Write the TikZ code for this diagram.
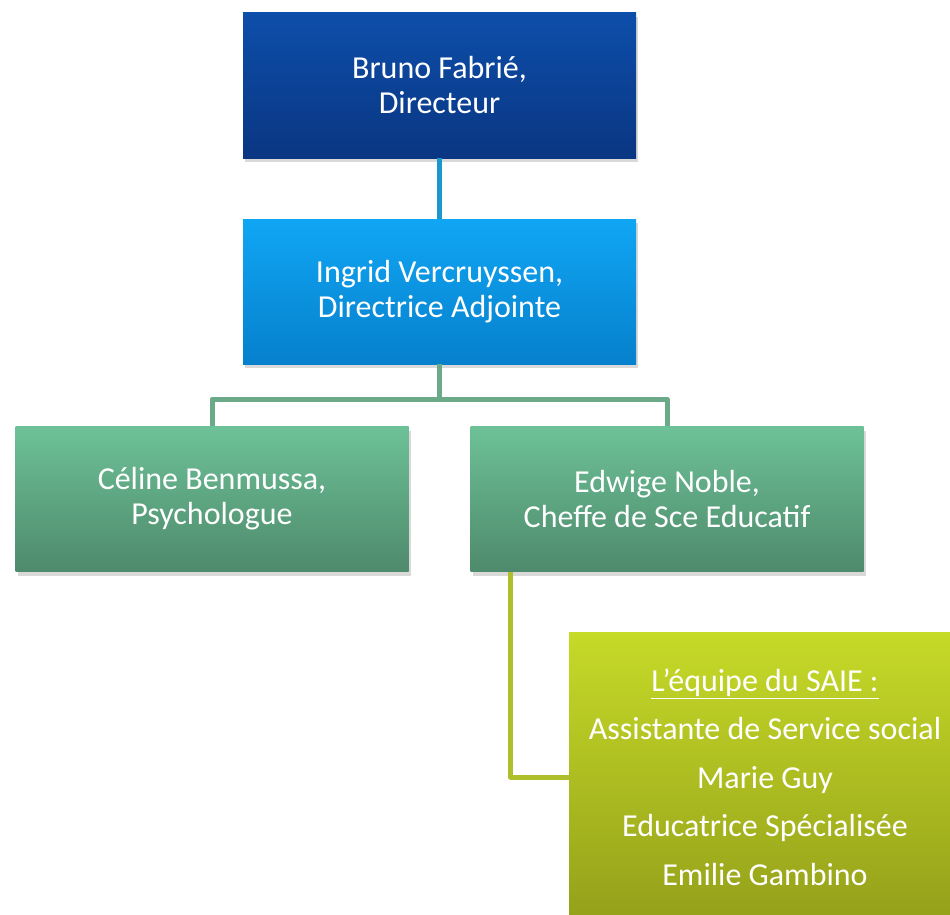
\documentclass[tikz,border=0pt]{standalone}
\usepackage{fontspec}
\setmainfont{Carlito}
\usetikzlibrary{shadows}

\definecolor{dirtop}{HTML}{0D4EAA}
\definecolor{dirbot}{HTML}{0A3682}
\definecolor{adjtop}{HTML}{10A6F4}
\definecolor{adjbot}{HTML}{0680CC}
\definecolor{teamtop}{HTML}{6DC197}
\definecolor{teambot}{HTML}{4E8A6C}
\definecolor{saietop}{HTML}{C6DA28}
\definecolor{saiebot}{HTML}{94A01A}
\definecolor{linkblue}{HTML}{1A98CC}
\definecolor{linkgreen}{HTML}{6AAA88}
\definecolor{linkolive}{HTML}{AFBF2C}

\begin{document}
\begin{tikzpicture}[
  x=1pt, y=1pt,
  every node/.style={font=\fontsize{32}{35}\selectfont, text=white, align=center},
  post/.style={shape=rectangle, minimum width=393pt, minimum height=145pt, inner sep=0pt,
    drop shadow={opacity=0.3, shadow xshift=2pt, shadow yshift=-4pt}},
  director/.style={post, top color=dirtop, bottom color=dirbot},
  deputy/.style={post, top color=adjtop, bottom color=adjbot},
  staff/.style={post, top color=teamtop, bottom color=teambot},
  team/.style={post, minimum width=392pt, minimum height=290pt, top color=saietop, bottom color=saiebot,
    font=\fontsize{32}{48.5}\selectfont},
  link/.style={line width=5pt, line join=round}
]
\clip (0,0) rectangle (950,-915);
\node [director] (dir) at (439.5,-85.5) {Bruno Fabrié,\\Directeur};
\node [deputy] (adj) at (439.5,-291.5) {Ingrid Vercruyssen,\\Directrice Adjointe};
\node [staff] (psy) at (212,-499) {Céline Benmussa,\\Psychologue};
\node [staff] (cse) at (667,-499) {Edwige Noble,\\Cheffe de Sce Educatif};
\node [team] (saie) at (765,-777) {\underline{L’équipe du SAIE :}\\Assistante de Service social\\Marie Guy\\Educatrice Spécialisée\\Emilie Gambino};

\draw [link, linkblue] (dir.south) -- (adj.north);
\draw [link, linkgreen] (adj.south) -- ++(0,-35) -| (psy.north);
\draw [link, linkgreen] (adj.south) -- ++(0,-35) -| (cse.north);
\draw [link, linkolive] ([xshift=40pt]cse.south west) |- (saie.west);
\end{tikzpicture}
\end{document}
